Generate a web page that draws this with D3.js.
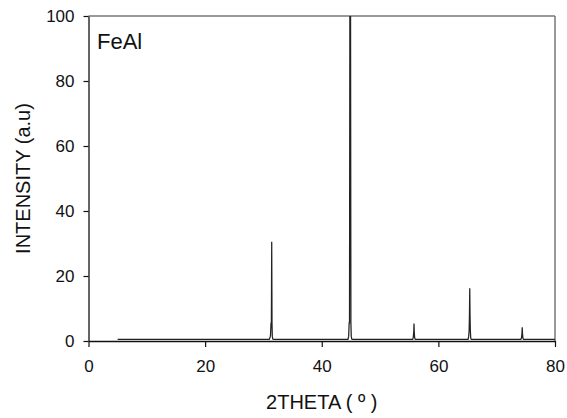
<!DOCTYPE html>
<html>
<head>
<meta charset="utf-8">
<script src="https://cdn.jsdelivr.net/npm/d3@7/dist/d3.min.js"></script>
<style>
  html, body { margin: 0; padding: 0; background: #fff; }
  svg { display: block; font-family: "Liberation Sans", Arial, sans-serif; }
</style>
</head>
<body>
<svg id="chart" width="567" height="418"></svg>
<script>
// XRD pattern of FeAl: diffraction angle (2θ, degrees) and relative intensity (a.u.)
const twoTheta = [
  5.0, 31.0, 31.2, 31.3, 31.36, 31.42, 31.47, 31.52, 31.6, 31.8,
  44.5, 44.62, 44.7, 44.76, 44.82, 44.94, 45.0, 45.06, 45.14, 45.3,
  55.6, 55.7, 55.78, 55.82, 55.86, 55.92, 56.0, 56.1,
  65.1, 65.2, 65.28, 65.33, 65.38, 65.43, 65.48, 65.55, 65.65,
  74.15, 74.25, 74.33, 74.38, 74.43, 74.5, 74.6,
  80.0
];
const intensity = [
  0.5, 0.5, 1.5, 5.5, 5.5, 30.5, 5.5, 1.5, 0.6, 0.5,
  0.5, 1.5, 5.6, 5.6, 100, 100, 5.6, 1.5, 0.6, 0.5,
  0.5, 1.2, 2.9, 5.4, 2.9, 1.2, 0.6, 0.5,
  0.5, 1.5, 3.4, 8.0, 16.2, 8.0, 3.4, 0.8, 0.5,
  0.5, 1.0, 2.2, 4.2, 2.2, 0.8, 0.5,
  0.5
];
const xTicks = [0, 20, 40, 60, 80];
const yTicks = [0, 20, 40, 60, 80, 100];
const sampleLabel = "FeAl";
const xTitle = "2THETA ( \u00BA )";
const yTitle = "INTENSITY (a.u)";

const svg = d3.select("#chart");
const plotLeft = 88.5, plotRight = 555, plotTop = 16, plotBottom = 341;

const x = d3.scaleLinear().domain([0, 80]).range([plotLeft, plotRight]);
const y = d3.scaleLinear().domain([0, 100]).range([plotBottom, plotTop]);

const pattern = twoTheta.map((t, i) => ({ t, v: intensity[i] }));

// frame: gray top and right edges
svg.append("line")
  .attr("x1", plotLeft).attr("x2", plotRight).attr("y1", plotTop).attr("y2", plotTop)
  .attr("stroke", "#777").attr("stroke-width", 1.5);
svg.append("line")
  .attr("x1", plotRight).attr("x2", plotRight).attr("y1", plotTop).attr("y2", plotBottom)
  .attr("stroke", "#777").attr("stroke-width", 1.5);

// clipped diffraction trace
svg.append("clipPath").attr("id", "plot-clip")
  .append("rect").attr("x", plotLeft).attr("y", plotTop)
  .attr("width", plotRight - plotLeft).attr("height", plotBottom - plotTop + 2);

const line = d3.line().x(d => x(d.t)).y(d => y(d.v));
svg.append("path")
  .datum(pattern)
  .attr("clip-path", "url(#plot-clip)")
  .attr("fill", "none")
  .attr("stroke", "#222")
  .attr("stroke-width", 1.25)
  .attr("stroke-linejoin", "miter")
  .attr("d", line);

// axes
const xAxis = d3.axisBottom(x).tickValues(xTicks).tickSize(6).tickSizeOuter(0).tickPadding(13);
const yAxis = d3.axisLeft(y).tickValues(yTicks).tickSize(5).tickSizeOuter(0).tickPadding(9);

const gx = svg.append("g").attr("transform", `translate(0,${plotBottom})`).call(xAxis);
const gy = svg.append("g").attr("transform", `translate(${plotLeft},0)`).call(yAxis);

[gx, gy].forEach(g => {
  g.select(".domain").attr("stroke", "#111").attr("stroke-width", 1.3);
  g.selectAll(".tick line").attr("stroke", "#111").attr("stroke-width", 1.2);
  g.selectAll(".tick text")
    .attr("fill", "#111")
    .style("font-size", "17px")
    .style("font-family", "'Liberation Sans', Arial, sans-serif");
});

// titles
svg.append("text")
  .attr("x", (plotLeft + plotRight) / 2).attr("y", 409)
  .attr("text-anchor", "middle")
  .style("font-size", "20px").attr("fill", "#111")
  .text(xTitle);

svg.append("text")
  .attr("transform", `translate(30,${(plotTop + plotBottom) / 2}) rotate(-90)`)
  .attr("text-anchor", "middle")
  .style("font-size", "20px").attr("fill", "#111")
  .text(yTitle);

svg.append("text")
  .attr("x", 97).attr("y", 49)
  .style("font-size", "22px").attr("fill", "#111")
  .text(sampleLabel);
</script>
</body>
</html>
